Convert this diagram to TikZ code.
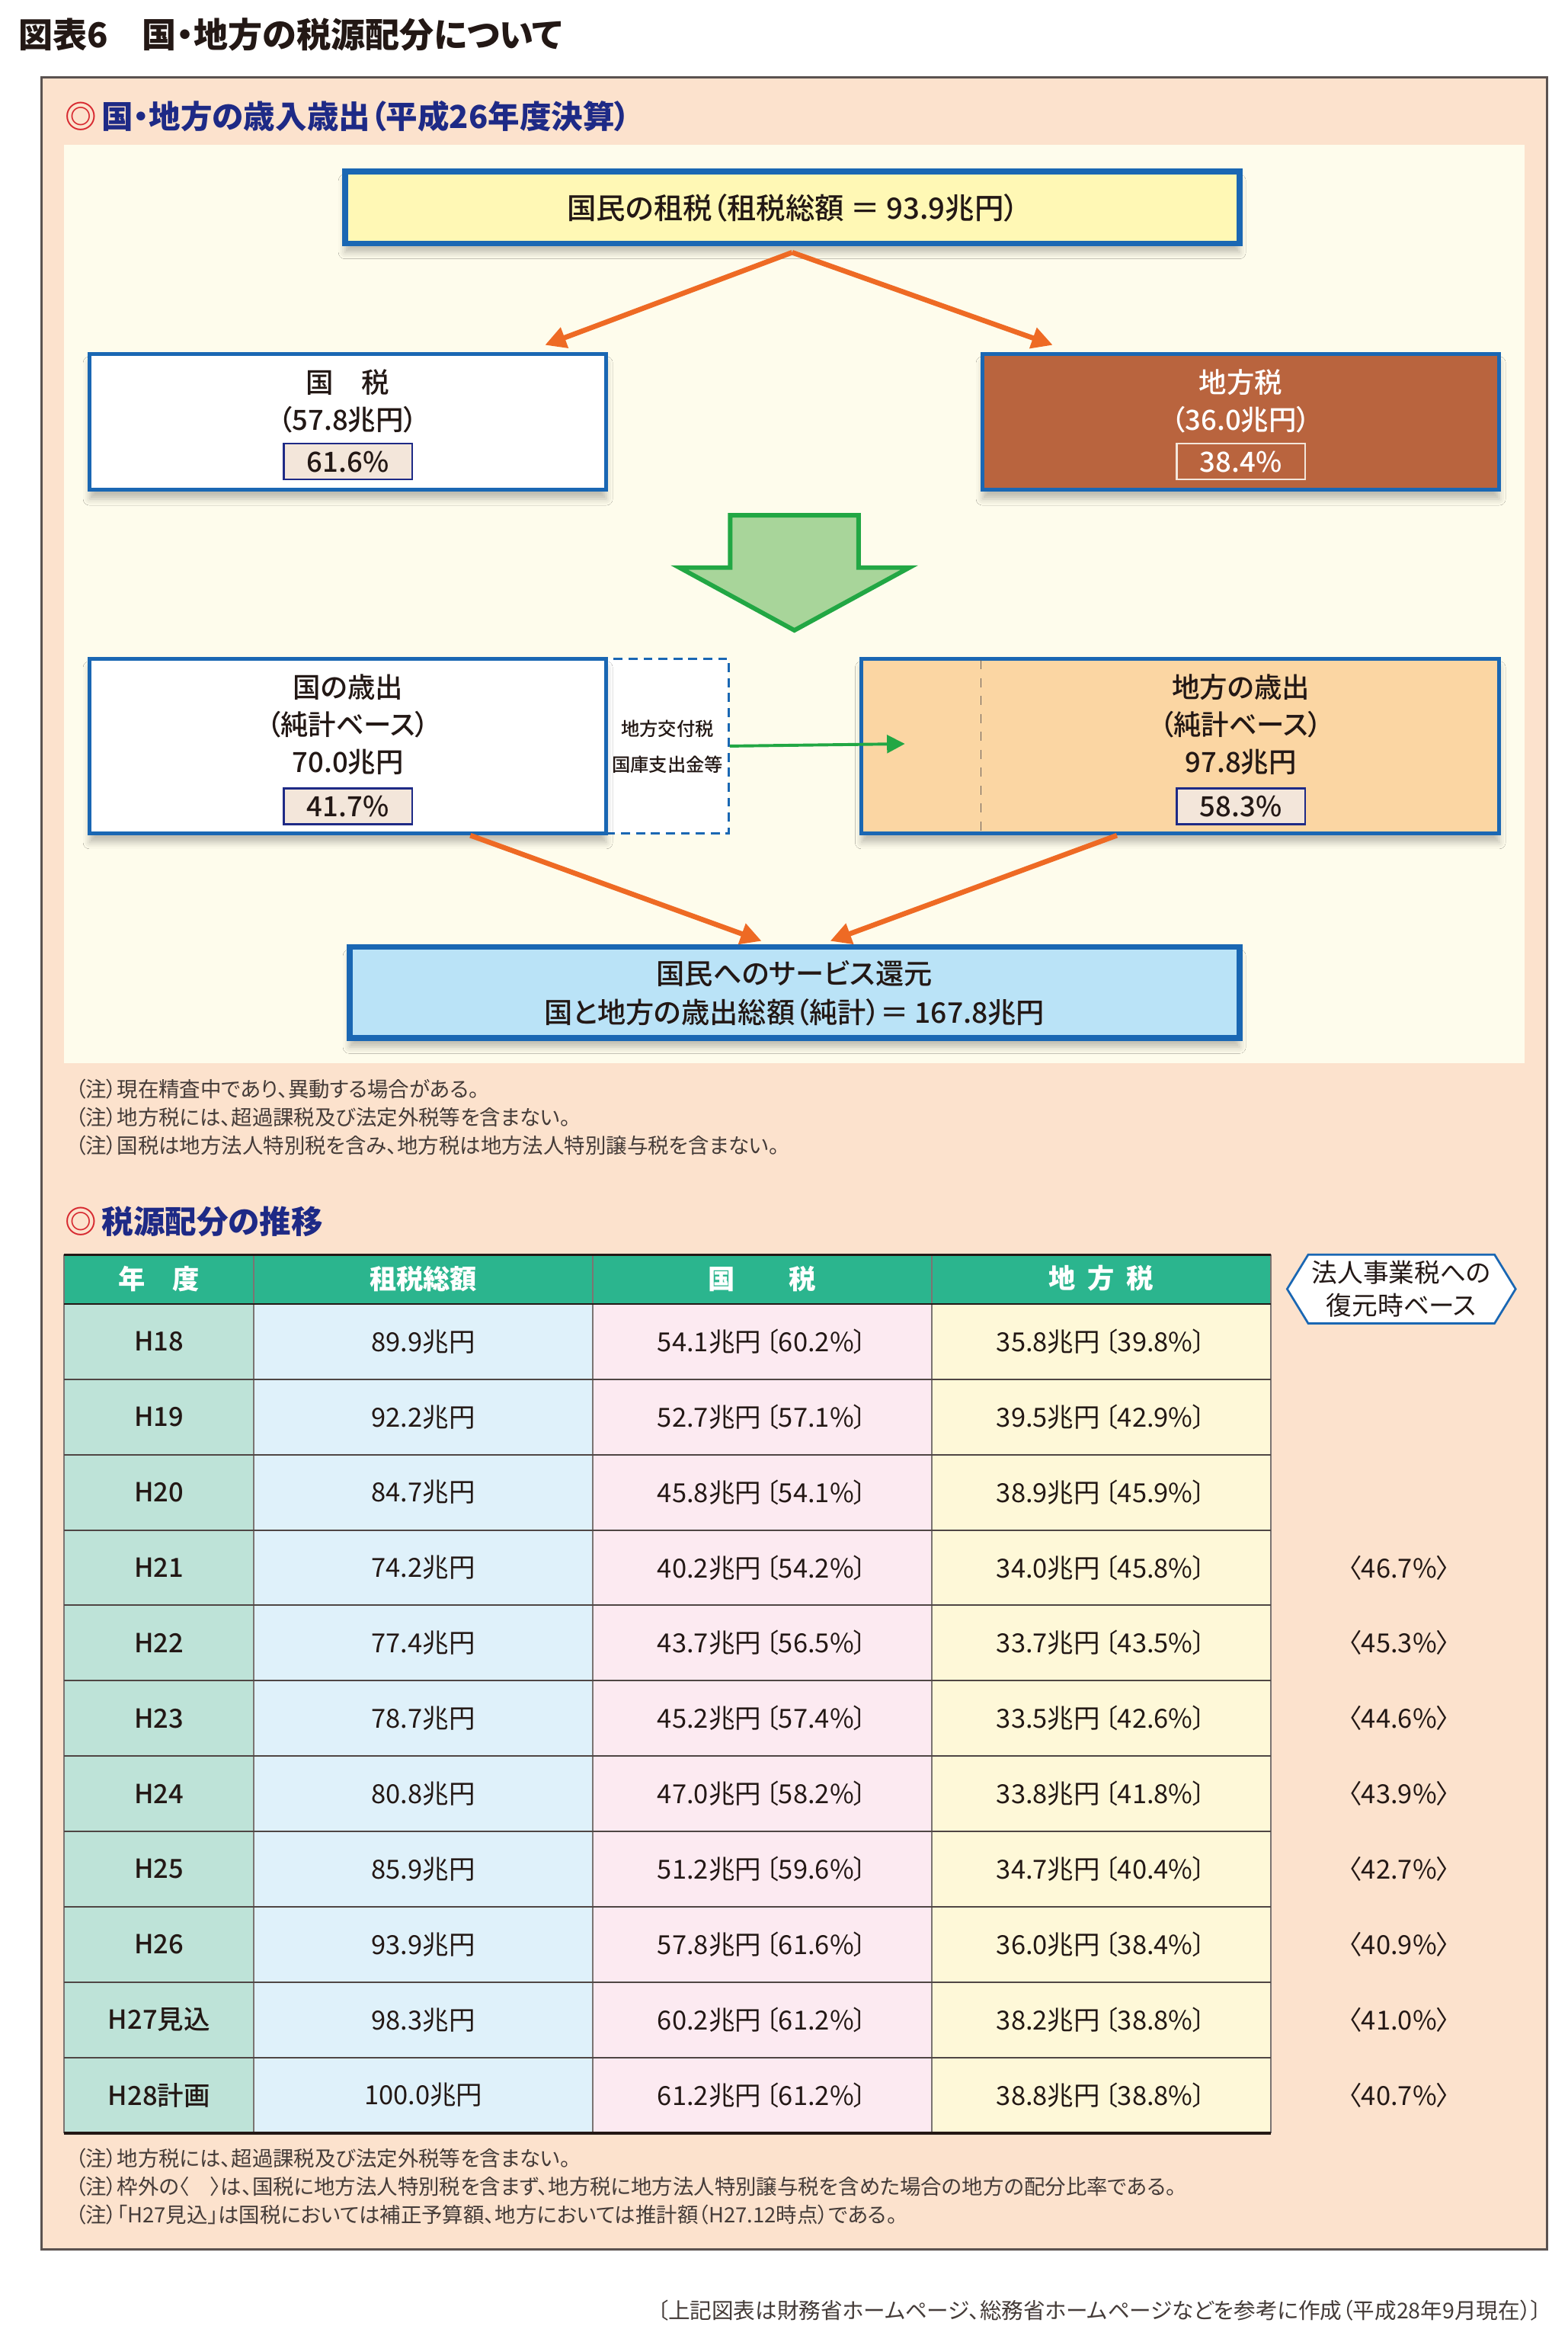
\documentclass[tikz,border=0pt]{standalone}
\usepackage{fontspec}
\setmainfont{Noto Sans CJK JP}[RawFeature=+palt]
\newfontfamily\medium{Noto Sans CJK JP Medium}[RawFeature=+palt]
\usetikzlibrary{arrows.meta,shadows.blur,shapes.symbols}

\definecolor{peach}{HTML}{FCE2CD}
\definecolor{cream}{HTML}{FEFCEC}
\definecolor{boxblue}{HTML}{1A67B3}
\definecolor{lemon}{HTML}{FFF8B5}
\definecolor{brick}{HTML}{B9643E}
\definecolor{arrorange}{HTML}{EE6A24}
\definecolor{leaf}{HTML}{A8D59A}
\definecolor{leafline}{HTML}{22A744}
\definecolor{apricot}{HTML}{FBD6A3}
\definecolor{sky}{HTML}{BAE3F7}
\definecolor{pctfill}{HTML}{F3E6DA}
\definecolor{navy}{HTML}{1E2A86}
\definecolor{ink}{HTML}{231815}
\definecolor{headgreen}{HTML}{2BB58E}
\definecolor{mint}{HTML}{BEE3D8}
\definecolor{icy}{HTML}{DFF1FA}
\definecolor{blush}{HTML}{FCEAF1}
\definecolor{butter}{HTML}{FEF8D8}
\definecolor{ringred}{HTML}{D7282F}

\begin{document}
\begin{tikzpicture}[x = 0.5pt, y = -0.5pt,
                   every node/.style = {inner sep = 0pt, text = ink},
                   bigbox/.style     = {draw = boxblue, line width = 2pt,
                                        blur shadow = {shadow xshift = 0pt,
                                                       shadow yshift = -3pt,
                                                       shadow opacity = 25}},
                   midbox/.style     = {draw = boxblue, line width = 1.3pt,
                                        minimum width = 173pt,
                                        blur shadow = {shadow xshift = 0pt,
                                                       shadow yshift = -3pt,
                                                       shadow opacity = 25}},
                   boxtext/.style    = {align = center,
                                        font  = \fontsize{9.3pt}{12.5pt}\medium},
                   pct/.style        = {draw = navy, fill = pctfill,
                                        line width = 0.7pt,
                                        minimum width  = 43pt,
                                        minimum height = 12pt,
                                        font = \fontsize{9.3pt}{10pt}\medium},
                   flow/.style       = {-{Triangle[length = 7pt, width = 7pt]},
                                        arrorange, line width = 1.7pt},
                   note/.style       = {anchor = west, text = ink!85,
                                        font = \fontsize{7pt}{8pt}\selectfont},
                   heading/.style    = {anchor = west, text = navy,
                                        font = \fontsize{10.6pt}{12pt}\selectfont\bfseries},
                   cell/.style       = {font = \fontsize{8.8pt}{10pt}\selectfont},
                   headcell/.style   = {text = white,
                                        font = \fontsize{9pt}{10pt}\selectfont\bfseries},
                   rowline/.style    = {draw = ink!80, line width = 0.5pt}]

\useasboundingbox[fill = white] (0,0) rectangle (1050,1568);

% title and frame
\node[anchor = west, font = \fontsize{11.5pt}{13pt}\selectfont\bfseries]
  (title) at (12,23) {図表6　国・地方の税源配分について};
\draw[fill = peach, draw = ink!75, line width = 0.8pt] (28,52) rectangle (1036,1506);
\fill[cream] (43,97) rectangle (1021,712);

\node[heading] (head1) at (43,78) {{\color{ringred}◎}\,国・地方の歳入歳出（平成26年度決算）};

% the nodes : upper chart
\node[bigbox, fill = lemon, minimum width = 299.5pt, minimum height = 24pt]
  (tax) at (530.5,139) {};
\node[boxtext, font = \fontsize{9.8pt}{12.5pt}\medium]
  (taxt) at (531,139) {国民の租税（租税総額 ＝ 93.9兆円）};

\node[midbox, fill = white, minimum height = 45.5pt] (kokuzei) at (233,282.5) {};
  \node[boxtext] (kokuzeit) at (233,268.5) {国　税\\（57.8兆円）};
  \node[pct] (kokuzeip) at (233,309) {61.6\%};
\node[midbox, fill = brick, minimum height = 45.5pt] (chihozei) at (831,282.5) {};
  \node[boxtext, text = white] (chihozeit) at (831,268.5) {地方税\\（36.0兆円）};
  \node[pct, fill = none, draw = pctfill, text = white] (chihozeip) at (831,309) {38.4\%};

% green block arrow
\draw[fill = leaf, draw = leafline, line width = 1.5pt]
  (489,345) -- (575,345) -- (575,380) -- (609,380) -- (532,422)
  -- (455,380) -- (489,380) -- cycle;

\node[draw = boxblue, fill = white, densely dashed, line width = 0.8pt,
      minimum width = 41pt, minimum height = 58.5pt] (kofu) at (447,499.5) {};
  \node[align = center, font = \fontsize{6.2pt}{12pt}\medium]
    (kofut) at (447,500) {地方交付税\\国庫支出金等};
\node[midbox, fill = white, minimum height = 58.5pt] (kunisai) at (233,499.5) {};
  \node[boxtext] (kunisait) at (233,485) {国の歳出\\（純計ベース）\\70.0兆円};
  \node[pct] (kunisaip) at (233,540) {41.7\%};
\node[midbox, fill = apricot, minimum width = 213.5pt, minimum height = 58.5pt]
  (chihosai) at (790.5,499.5) {};
  \draw[ink!70, dashed, line width = 0.4pt] (657,442) -- (657,557);
  \node[boxtext] (chihosait) at (831,485) {地方の歳出\\（純計ベース）\\97.8兆円};
  \node[pct] (chihosaip) at (831,540) {58.3\%};

\node[bigbox, fill = sky, minimum width = 298pt, minimum height = 30.5pt]
  (service) at (532,664.5) {};
\node[boxtext, font = \fontsize{9.5pt}{13pt}\medium]
  (servicet) at (532,665) {国民へのサービス還元\\国と地方の歳出総額（純計）＝ 167.8兆円};

% edges
\coordinate (tokuni)   at (365,231);
\coordinate (tochiho)  at (705,231);
\coordinate (tosai)    at (606,498);
\coordinate (inleft)   at (510,630);
\coordinate (inright)  at (556,630);
\draw[flow] ([yshift = -2pt]tax.south) -- (tokuni);
\draw[flow] ([yshift = -2pt]tax.south) -- (tochiho);
\draw[-{Triangle[length = 6pt, width = 6pt]}, leafline, line width = 1pt]
  (kofu.east) -- (tosai);
\draw[flow] ([xshift = 41pt]kunisai.south) -- (inleft);
\draw[flow] ([xshift = -21.25pt]chihosai.south) -- (inright);

% notes
\node[note] (n1) at (50,729) {（注）現在精査中であり、異動する場合がある。};
\node[note] (n2) at (50,748) {（注）地方税には、超過課税及び法定外税等を含まない。};
\node[note] (n3) at (50,767) {（注）国税は地方法人特別税を含み、地方税は地方法人特別譲与税を含まない。};

\node[heading] (head2) at (43,818) {{\color{ringred}◎}\,税源配分の推移};

% table
\fill[headgreen] (43,840) rectangle (851,873);
\fill[mint]   (43,873)  rectangle (170,1428);
\fill[icy]    (170,873) rectangle (397,1428);
\fill[blush]  (397,873) rectangle (624,1428);
\fill[butter] (624,873) rectangle (851,1428);
\foreach \xx in {43,170,397,624,851}
  { \draw[ink!60, line width = 0.4pt] (\xx,840) -- (\xx,1428); }
\foreach \j in {1,...,10}
  { \draw[rowline] (43,{873+\j*50.45}) -- (851,{873+\j*50.45}); }
\draw[ink, line width = 0.9pt] (43,840) -- (851,840);
\draw[ink, line width = 0.7pt] (43,873) -- (851,873);
\draw[ink, line width = 1pt] (43,1428) -- (851,1428);

\node[headcell] (h1) at (106.5,856) {年　度};
\node[headcell] (h2) at (283.5,856) {租税総額};
\node[headcell] (h3) at (510.5,856) {国　　税};
\node[headcell] (h4) at (737.5,856) {地\hspace{0.45em}方\hspace{0.45em}税};

\node[signal, signal to = west and east, signal pointer angle = 117,
      draw = boxblue, fill = white, line width = 0.7pt,
      minimum width = 76.5pt, minimum height = 23pt, align = center,
      font = \fontsize{8.6pt}{11pt}\selectfont] (fukugen) at (938.5,863)
  {法人事業税への\\復元時ベース};

\foreach \yr/\tot/\kuni/\loc/\fk [count = \i from 0] in
  {H18/89.9兆円/54.1兆円\,〔60.2\%〕/35.8兆円\,〔39.8\%〕/{},
   H19/92.2兆円/52.7兆円\,〔57.1\%〕/39.5兆円\,〔42.9\%〕/{},
   H20/84.7兆円/45.8兆円\,〔54.1\%〕/38.9兆円\,〔45.9\%〕/{},
   H21/74.2兆円/40.2兆円\,〔54.2\%〕/34.0兆円\,〔45.8\%〕/〈46.7\%〉,
   H22/77.4兆円/43.7兆円\,〔56.5\%〕/33.7兆円\,〔43.5\%〕/〈45.3\%〉,
   H23/78.7兆円/45.2兆円\,〔57.4\%〕/33.5兆円\,〔42.6\%〕/〈44.6\%〉,
   H24/80.8兆円/47.0兆円\,〔58.2\%〕/33.8兆円\,〔41.8\%〕/〈43.9\%〉,
   H25/85.9兆円/51.2兆円\,〔59.6\%〕/34.7兆円\,〔40.4\%〕/〈42.7\%〉,
   H26/93.9兆円/57.8兆円\,〔61.6\%〕/36.0兆円\,〔38.4\%〕/〈40.9\%〉,
   H27見込/98.3兆円/60.2兆円\,〔61.2\%〕/38.2兆円\,〔38.8\%〕/〈41.0\%〉,
   H28計画/100.0兆円/61.2兆円\,〔61.2\%〕/38.8兆円\,〔38.8\%〕/〈40.7\%〉}
  { \pgfmathsetmacro\yc{873+(\i+0.5)*50.45}
    \node[cell, font = \fontsize{8.8pt}{10pt}\medium] (yr\i) at (106.5,\yc) {\yr};
    \node[cell] (tot\i)  at (283.5,\yc) {\tot};
    \node[cell] (kuni\i) at (510.5,\yc) {\kuni};
    \node[cell] (loc\i)  at (737.5,\yc) {\loc};
    \node[cell] (fk\i)   at (937,\yc)   {\fk}; }

% notes below the table
\node[note] (n4) at (50,1445) {（注）地方税には、超過課税及び法定外税等を含まない。};
\node[note] (n5) at (50,1464) {（注）枠外の〈　〉は、国税に地方法人特別税を含まず、地方税に地方法人特別譲与税を含めた場合の地方の配分比率である。};
\node[note] (n6) at (50,1483) {（注）「H27見込」は国税においては補正予算額、地方においては推計額（H27.12時点）である。};

\node[anchor = east, text = ink!85, font = \fontsize{7.3pt}{8pt}\selectfont]
  (source) at (1033,1547) {〔上記図表は財務省ホームページ、総務省ホームページなどを参考に作成（平成28年9月現在）〕};
\end{tikzpicture}
\end{document}
